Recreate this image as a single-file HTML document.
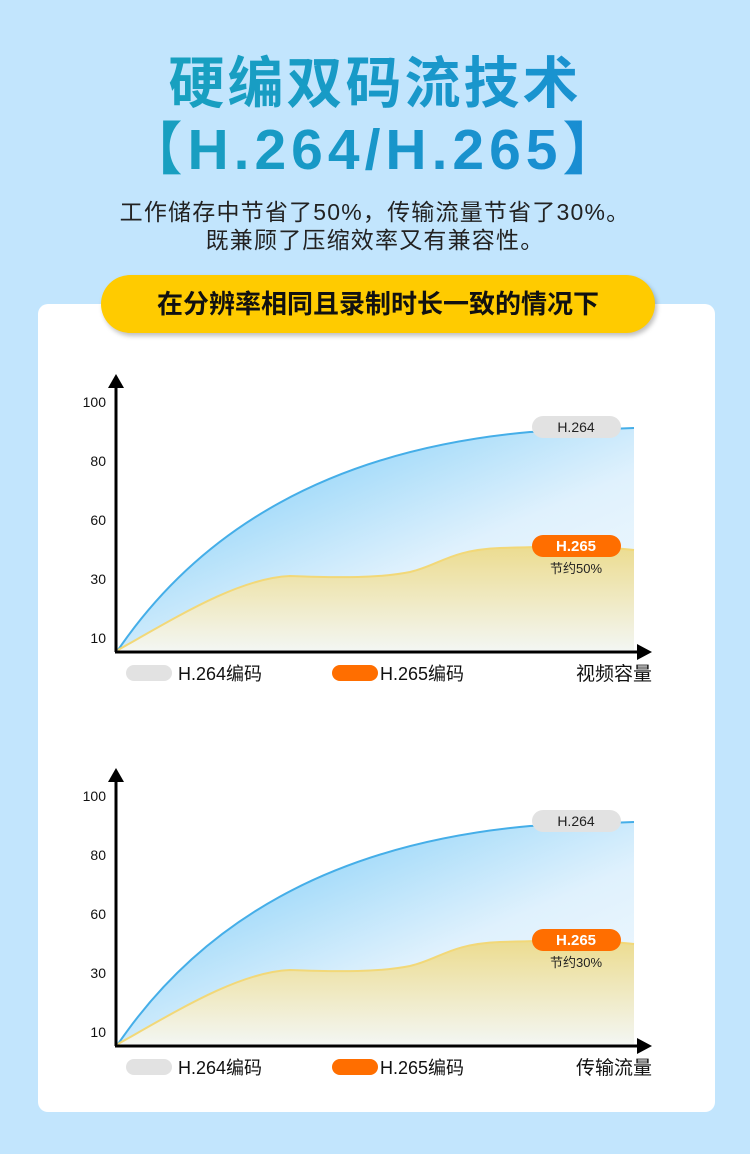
<!DOCTYPE html>
<html><head><meta charset="utf-8"><style>
body{margin:0;width:750px;height:1154px;background:#c2e5fd;position:relative;overflow:hidden;font-family:"Liberation Sans","Noto Sans CJK SC",sans-serif}
.t1{position:absolute;top:44px;left:0;width:750px;text-align:center;font-size:56px;font-weight:bold;color:#1598c8;letter-spacing:3px;line-height:80px;background:linear-gradient(90deg,#17a6b8,#1a8cd8);-webkit-background-clip:text;color:transparent}
.t2{position:absolute;top:112px;left:0;width:750px;text-align:center;font-size:57px;font-weight:bold;line-height:76px;letter-spacing:5px;background:linear-gradient(90deg,#17a6b8,#1a86da);-webkit-background-clip:text;color:transparent}
.sub{position:absolute;left:0;width:750px;text-align:center;font-size:23px;color:#222;line-height:28px;letter-spacing:1.2px}
.card{position:absolute;left:38px;top:304px;width:677px;height:808px;background:#fff;border-radius:10px}
.pill{position:absolute;left:101px;top:275px;width:554px;height:58px;background:#ffcb00;border-radius:29px;box-shadow:2px 3px 5px rgba(0,0,0,.25);text-align:center;line-height:58px;font-size:26px;font-weight:bold;color:#111}
svg{position:absolute;left:0;top:0}
</style></head><body>
<div class="t1">硬编双码流技术</div>
<div class="t2">【H.264/H.265】</div>
<div class="sub" style="top:198px">工作储存中节省了50%，传输流量节省了30%。</div>
<div class="sub" style="top:226px">既兼顾了压缩效率又有兼容性。</div>
<div class="card"></div>
<div class="pill">在分辨率相同且录制时长一致的情况下</div>
<svg width="750" height="1154" font-family="Liberation Sans, Noto Sans CJK SC, sans-serif">
<defs>
<linearGradient id="bl" x1="0" y1="0" x2="1" y2="1"><stop offset="0" stop-color="#6cc6f5"/><stop offset=".6" stop-color="#dff1fd"/><stop offset="1" stop-color="#f4fafe"/></linearGradient>
<linearGradient id="yl" x1="0" y1="0" x2="0" y2="1"><stop offset="0" stop-color="#ecdc90"/><stop offset="1" stop-color="#f3f6f2"/></linearGradient>
<g id="ch">
<path d="M118,650 C200,530 330,450 530,432 L634,428 L634,650 Z" fill="url(#bl)"/>
<path d="M118,650 C200,530 330,450 530,432 L634,428" fill="none" stroke="#45aee8" stroke-width="2"/>
<path d="M118,650 C180,615 240,578 290,576 C340,578 380,578 410,572 C440,565 450,550 500,548 C560,546 600,546 634,550 L634,650 Z" fill="url(#yl)"/>
<path d="M118,650 C180,615 240,578 290,576 C340,578 380,578 410,572 C440,565 450,550 500,548 C560,546 600,546 634,550" fill="none" stroke="#f2d878" stroke-width="2"/>
<path d="M116,652 V385" stroke="#000" stroke-width="3"/><path d="M108,388 L116,374 L124,388 Z"/>
<path d="M115,652 H640" stroke="#000" stroke-width="3"/><path d="M637,644 L652,652 L637,660 Z"/>
<g font-size="14" fill="#111" text-anchor="end"><text x="106" y="407">100</text><text x="106" y="466">80</text><text x="106" y="525">60</text><text x="106" y="584">30</text><text x="106" y="643">10</text></g>
<rect x="532" y="416" width="89" height="22" rx="11" fill="#e2e2e2"/><text x="576" y="432" font-size="14" text-anchor="middle" fill="#222">H.264</text>
<rect x="532" y="535" width="89" height="22" rx="11" fill="#ff6e00"/><text x="576" y="551" font-size="15" font-weight="bold" text-anchor="middle" fill="#fff">H.265</text>
<rect x="126" y="665" width="46" height="16" rx="8" fill="#e2e2e2"/><text x="178" y="680" font-size="18" fill="#111">H.264编码</text>
<rect x="332" y="665" width="46" height="16" rx="8" fill="#ff6e00"/><text x="380" y="680" font-size="18" fill="#111">H.265编码</text>
</g>
</defs>
<use href="#ch"/>
<text x="576" y="573" font-size="13" text-anchor="middle" fill="#222">节约50%</text>
<text x="652" y="680" font-size="19" text-anchor="end" fill="#111">视频容量</text>
<use href="#ch" y="394"/>
<text x="576" y="967" font-size="13" text-anchor="middle" fill="#222">节约30%</text>
<text x="652" y="1074" font-size="19" text-anchor="end" fill="#111">传输流量</text>
</svg>
</body></html>
